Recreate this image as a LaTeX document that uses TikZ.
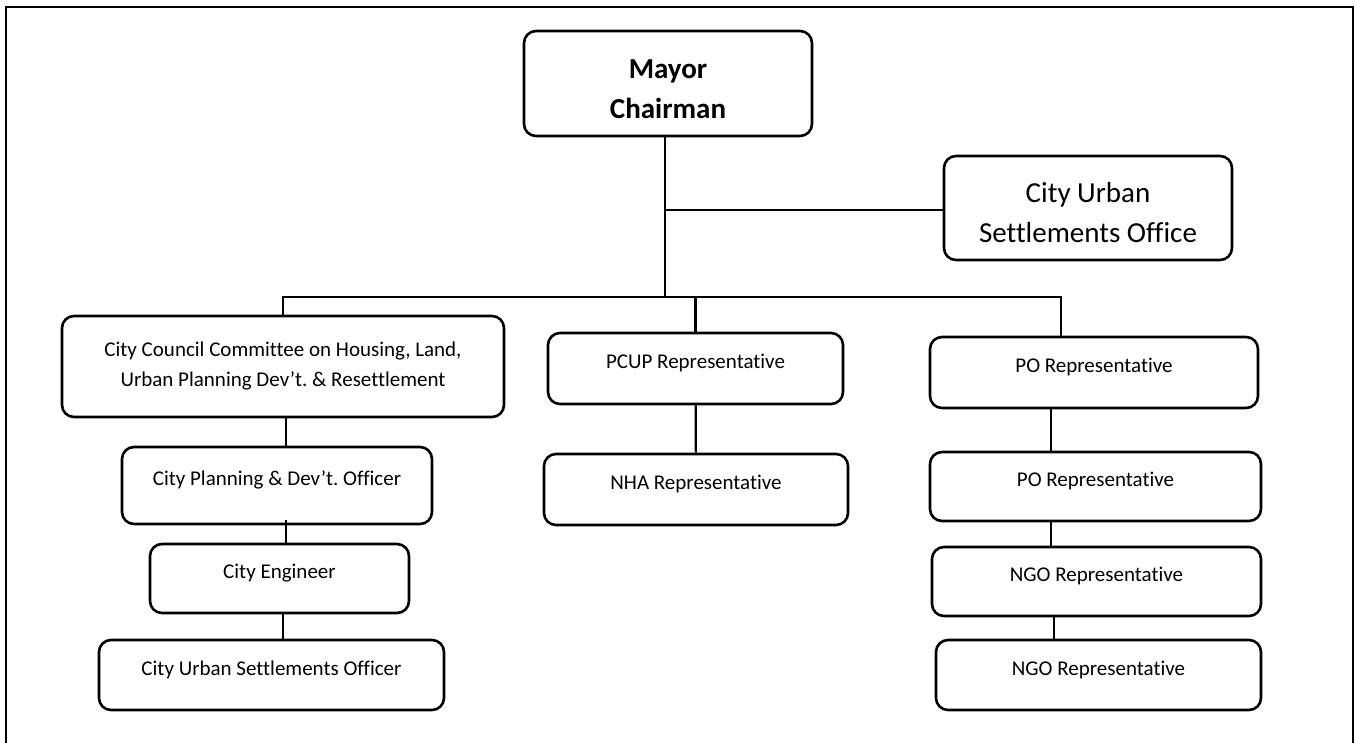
\documentclass[tikz,border=0pt]{standalone}
\usepackage{fontspec}
\setmainfont{Carlito}[Ligatures={TeX,NoCommon}]
\usetikzlibrary{shapes, arrows}
\frenchspacing

\begin{document}
\begin{tikzpicture}[x=1pt,y=-1pt,line width=2.2pt,
    org box/.style={rectangle,rounded corners=12pt,draw,line width=2.6pt,inner sep=0pt},
    head node/.style={org box,align=center,font=\fontsize{29}{40}\selectfont},
    two line/.style={org box,align=center,font=\fontsize{21}{30}\selectfont},
    main node/.style={org box,font=\fontsize{21}{30}\selectfont,text height=11pt,text depth=11pt}]

  \useasboundingbox (0,0) rectangle (1356,742);
  \draw[line width=2.5pt] (6,750) |- (1353,7) -- (1353,750);

  \node[head node,minimum width=288pt,minimum height=105pt] (mayor) at (668,83.5)
    {\rule{0pt}{30pt}\textbf{Mayor}\\\textbf{Chairman}};
  \node[head node,minimum width=288pt,minimum height=104pt] (cuso) at (1088,208)
    {\rule{0pt}{29pt}City Urban\\Settlements Office};

  \node[two line,minimum width=442pt,minimum height=101pt] (cccom) at (283,366.5)
    {City Council Committee on Housing, Land,\\Urban Planning Dev’t. \& Resettlement};
  \node[main node,minimum width=310pt,minimum height=77pt] (cpdo) at (277,485.5) {City Planning \& Dev’t. Officer};
  \node[main node,minimum width=259pt,minimum height=69pt] (ceng) at (279.5,578.5) {City Engineer};
  \node[main node,minimum width=345pt,minimum height=70pt] (cusof) at (271.5,675) {City Urban Settlements Officer};

  \node[main node,minimum width=295pt,minimum height=71pt] (pcup) at (695.5,368.5) {PCUP Representative};
  \node[main node,minimum width=304pt,minimum height=71pt] (nha) at (696,489.5) {NHA Representative};

  \node[main node,minimum width=328pt,minimum height=71pt] (po1) at (1094,372.5) {PO Representative};
  \node[main node,minimum width=331pt,minimum height=69pt] (po2) at (1095.5,486.5) {PO Representative};
  \node[main node,minimum width=329pt,minimum height=69pt] (ngo1) at (1096.5,581.5) {NGO Representative};
  \node[main node,minimum width=325pt,minimum height=70pt] (ngo2) at (1098.5,675) {NGO Representative};

  \coordinate (hub) at (665,297);
  \coordinate (tee) at (665,210);
  \coordinate (busR) at (1061,297);

  % mayor down to the bus, office on the side
  \draw ([xshift=-3pt]mayor.south) -- (hub);
  \draw (tee) -- (tee -| cuso.west);
  \draw (cccom) |- (busR) -- (busR |- po1.north);
  \draw (pcup) -- (pcup |- hub);

  % left column
  \draw ([xshift=3pt]cccom.south) -- ([xshift=9pt]cpdo.north);
  \draw ([xshift=9pt,yshift=5pt]cpdo.south) -- ([xshift=6.5pt]ceng.north);
  \draw ([xshift=3.5pt]ceng.south) -- ([xshift=11.5pt]cusof.north);

  % middle and right columns
  \draw (pcup) -- (nha);
  \draw ([xshift=-43pt]po1.south) -- ([xshift=-44.5pt]po2.north);
  \draw ([xshift=-44.5pt]po2.south) -- ([xshift=-45.5pt]ngo1.north);
  \draw ([xshift=-42.5pt]ngo1.south) -- ([xshift=-44.5pt]ngo2.north);
\end{tikzpicture}
\end{document}
